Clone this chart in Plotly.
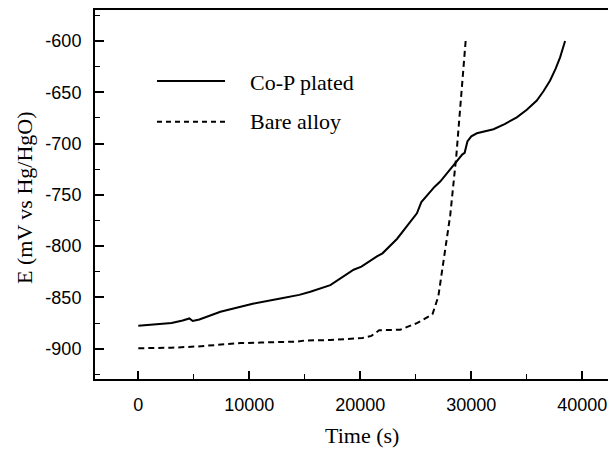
import plotly.graph_objects as go

# Co-P plated (solid)
cop_time = [0, 1500, 3000, 4000, 4600, 4900, 5500, 7400, 10400, 12800, 14500, 15500,
            17300, 19400, 20100, 21500, 22000, 23300, 23600, 25100, 25500, 26700, 27200,
            28700, 29200, 29400, 29650, 30000, 30500, 32000, 33000, 34100, 35000, 35900,
            36500, 37100, 37600, 38000, 38450]
cop_e = [-877.5, -876.5, -875, -872.5, -870.5, -873, -871.5, -864, -856, -851, -847.5, -844.5,
         -838, -823, -820, -810, -807, -793, -789, -768, -757, -742, -737,
         -717, -710.5, -709, -698, -693, -690, -686, -681, -674.5, -667, -658,
         -649, -638.5, -627, -616, -600]

# Bare alloy (dashed)
bare_time = [0, 3000, 5300, 9200, 11000, 14300, 15000, 17300, 20200, 21000, 21700, 23600,
             25100, 26500, 27030, 27480, 28100, 28650, 29130, 29490]
bare_e = [-899.5, -899, -897.8, -894.5, -894, -893, -892, -891.5, -889.5, -887.5, -882, -881.5,
          -875, -866.5, -849, -816.5, -770, -712, -645, -600]

series_names = ["Co-P plated", "Bare alloy"]

x_ticks = [0, 10000, 20000, 30000, 40000]
y_ticks = [-600, -650, -700, -750, -800, -850, -900]

SERIF = "Liberation Serif, Times New Roman, serif"
SANS = "Liberation Sans, Arial, sans-serif"

fig = go.Figure()
fig.add_trace(go.Scatter(x=cop_time, y=cop_e, mode="lines", name=series_names[0],
                         line=dict(color="black", width=2), showlegend=False))
fig.add_trace(go.Scatter(x=bare_time, y=bare_e, mode="lines", name=series_names[1],
                         line=dict(color="black", width=2, dash="6px,4px"), showlegend=False))

# page body has an 8px default margin, so the figure is 8px smaller and shifted
fig.update_layout(
    width=608, height=442,
    margin=dict(l=87, r=0, t=2, b=71),
    paper_bgcolor="white", plot_bgcolor="white",
    font=dict(family=SANS, size=18, color="black"),
    xaxis=dict(range=[-3900, 43036], tickvals=x_ticks, ticktext=[str(v) for v in x_ticks],
               showgrid=False, zeroline=False, showline=True, linecolor="black", linewidth=2,
               mirror=True, ticks="inside", ticklen=8, tickwidth=1.5, tickcolor="black",
               tickfont=dict(family=SANS, size=18, color="black"), ticklabelstandoff=8,
               minor=dict(ticks="inside", dtick=5000, tick0=0, ticklen=5, tickwidth=1,
                          tickcolor="black")),
    yaxis=dict(range=[-929.5, -569.8], tickvals=y_ticks, ticktext=[str(v) for v in y_ticks],
               showgrid=False, zeroline=False, showline=True, linecolor="black", linewidth=2,
               ticks="inside", ticklen=9, tickwidth=1.5, tickcolor="black",
               tickfont=dict(family=SANS, size=18, color="black"), ticklabelstandoff=8,
               minor=dict(ticks="inside", dtick=25, tick0=-600, ticklen=5, tickwidth=1,
                          tickcolor="black")),
)

annotations = [
    dict(text="Time (s)", xref="paper", yref="paper", x=0.5125, y=-0.1518,
         xanchor="center", yanchor="middle", showarrow=False,
         font=dict(family=SERIF, size=22, color="black")),
    dict(text="E (mV vs Hg/HgO)", xref="paper", yref="paper", x=-0.1363, y=0.4932,
         xanchor="center", yanchor="middle", textangle=-90, showarrow=False,
         font=dict(family=SERIF, size=22, color="black")),
    dict(text=series_names[0], xref="paper", yref="paper", x=0.2937, y=0.8022,
         xanchor="left", yanchor="middle", showarrow=False,
         font=dict(family=SERIF, size=22, color="black")),
    dict(text=series_names[1], xref="paper", yref="paper", x=0.2937, y=0.6973,
         xanchor="left", yanchor="middle", showarrow=False,
         font=dict(family=SERIF, size=22, color="black")),
]
fig.update_layout(annotations=annotations)

fig.add_shape(type="line", xref="paper", yref="paper", x0=0.119, x1=0.2495, y0=0.8076, y1=0.8076,
              line=dict(color="black", width=2))
fig.add_shape(type="line", xref="paper", yref="paper", x0=0.119, x1=0.2495, y0=0.6973, y1=0.6973,
              line=dict(color="black", width=2, dash="5px,4px"))

fig.write_html("out.html")
